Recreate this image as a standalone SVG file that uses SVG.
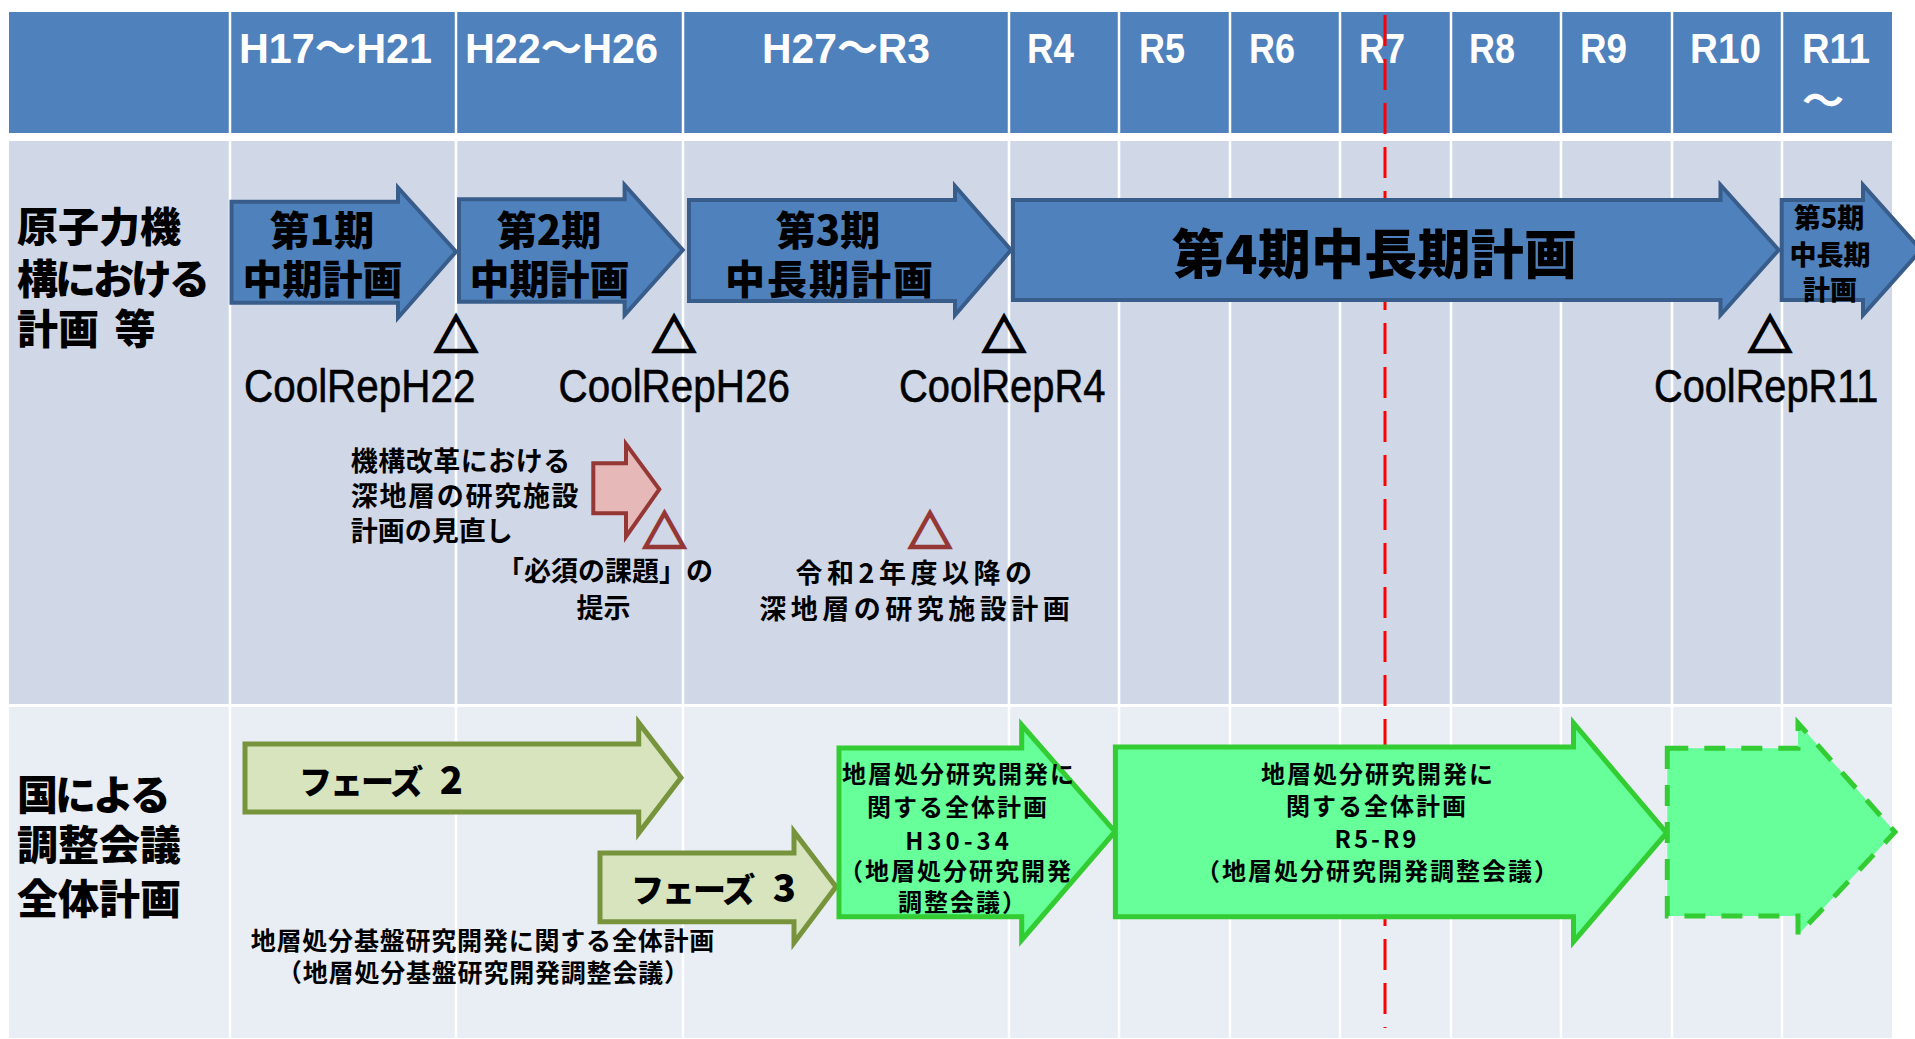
<svg xmlns="http://www.w3.org/2000/svg" width="1915" height="1039" viewBox="0 0 1915 1039">
<style>
.hdr{font-family:"Liberation Sans","Noto Sans CJK JP",sans-serif;font-weight:700;font-size:42px;fill:#fff}
.lbl{font-family:"Noto Sans CJK JP",sans-serif;font-weight:900;font-size:41px;fill:#000}
.at{font-family:"Noto Sans CJK JP",sans-serif;font-weight:900;font-size:40px;fill:#000;text-anchor:middle}
.cool{font-family:"Liberation Sans",sans-serif;font-size:47px;fill:#000;stroke:#000;stroke-width:0.6}
.sm{font-family:"Noto Sans CJK JP",sans-serif;font-weight:700;font-size:27px;fill:#000}
.gr{font-family:"Noto Sans CJK JP",sans-serif;font-weight:700;font-size:24px;fill:#000;text-anchor:middle;letter-spacing:2px}
.tri{font-family:"Noto Sans CJK JP",sans-serif;font-weight:700;font-size:44px;text-anchor:middle;stroke-width:2.5}
.sep{stroke:#fff;stroke-width:2.5}
.blue{fill:#4F81BD;stroke:#385D8A;stroke-width:4}
.ph{fill:#D7E4BD;stroke:#77933C;stroke-width:5}
.grn{fill:#66FF99;stroke:#33CC33;stroke-width:5}
</style>
<rect width="1915" height="1039" fill="#fff"/>
<g id="table">
<rect x="9" y="12" width="1883" height="121" fill="#4F81BD"/>
<rect x="9" y="141" width="1883" height="563" fill="#D0D8E8"/>
<rect x="9" y="707" width="1883" height="331" fill="#E9EDF4"/>
<g class="sep">
<line x1="230" y1="12" x2="230" y2="1038"/>
<line x1="456" y1="12" x2="456" y2="1038"/>
<line x1="683" y1="12" x2="683" y2="1038"/>
<line x1="1009" y1="12" x2="1009" y2="1038"/>
<line x1="1119" y1="12" x2="1119" y2="1038"/>
<line x1="1230" y1="12" x2="1230" y2="1038"/>
<line x1="1340" y1="12" x2="1340" y2="1038"/>
<line x1="1451" y1="12" x2="1451" y2="1038"/>
<line x1="1561" y1="12" x2="1561" y2="1038"/>
<line x1="1672" y1="12" x2="1672" y2="1038"/>
<line x1="1782" y1="12" x2="1782" y2="1038"/>
</g>
</g>
<g id="header">
<text class="hdr" x="239" y="63" textLength="193" lengthAdjust="spacingAndGlyphs">H17～H21</text>
<text class="hdr" x="465" y="63" textLength="193" lengthAdjust="spacingAndGlyphs">H22～H26</text>
<text class="hdr" x="762" y="63" textLength="168" lengthAdjust="spacingAndGlyphs">H27～R3</text>
<text class="hdr" x="1027" y="63" textLength="47" lengthAdjust="spacingAndGlyphs">R4</text>
<text class="hdr" x="1139" y="63" textLength="46" lengthAdjust="spacingAndGlyphs">R5</text>
<text class="hdr" x="1249" y="63" textLength="46" lengthAdjust="spacingAndGlyphs">R6</text>
<text class="hdr" x="1359" y="63" textLength="46" lengthAdjust="spacingAndGlyphs">R7</text>
<text class="hdr" x="1469" y="63" textLength="46" lengthAdjust="spacingAndGlyphs">R8</text>
<text class="hdr" x="1580" y="63" textLength="47" lengthAdjust="spacingAndGlyphs">R9</text>
<text class="hdr" x="1690" y="63" textLength="71" lengthAdjust="spacingAndGlyphs">R10</text>
<text class="hdr" x="1802" y="63" textLength="68" lengthAdjust="spacingAndGlyphs">R11</text>
<text class="hdr" x="1823" y="116" text-anchor="middle">～</text>
</g>
<g id="row-labels">
<text class="lbl"><tspan x="17" y="242">原子力機</tspan><tspan x="17" y="294" letter-spacing="-3">構における</tspan><tspan x="17" y="344">計画</tspan><tspan x="105" y="344"> 等</tspan></text>
<text class="lbl"><tspan x="17" y="810" letter-spacing="-3">国による</tspan><tspan x="17" y="860">調整会議</tspan><tspan x="17" y="914">全体計画</tspan></text>
</g>
<g id="red-line">
<line x1="1385" y1="15" x2="1385" y2="1028" stroke="#FF0000" stroke-width="3" stroke-dasharray="31 13"/>
</g>
<g id="plan1">
<polygon class="blue" points="231.5,201.7 398,201.7 398,187.7 456,251.7 398,317.7 398,302.7 231.5,302.7"/>
<text class="at"><tspan x="322" y="245">第1期</tspan><tspan x="322.5" y="294">中期計画</tspan></text>
</g>
<g id="plan2">
<polygon class="blue" points="459,199.3 624.6,199.3 624.6,185 682.8,250 624.6,315 624.6,301.7 459,301.7"/>
<text class="at"><tspan x="549" y="245">第2期</tspan><tspan x="549.5" y="294">中期計画</tspan></text>
</g>
<g id="plan3">
<polygon class="blue" points="689,200 955,200 955,186 1011,250 955,315 955,301 689,301"/>
<text class="at"><tspan x="828" y="245">第3期</tspan><tspan x="830" y="294" letter-spacing="2">中長期計画</tspan></text>
</g>
<g id="plan4">
<polygon class="blue" points="1013,200 1720.5,200 1720.5,185 1778.6,250 1720.5,315 1720.5,300 1013,300"/>
<text class="at" x="1374.6" y="274" style="font-size:53px" textLength="405">第4期中長期計画</text>
</g>
<g id="plan5">
<polygon class="blue" points="1781.7,200 1863,200 1863,185 1921,250 1863,315 1863,300 1781.7,300"/>
<text class="at" style="font-size:27px"><tspan x="1829" y="228">第5期</tspan><tspan x="1830" y="265">中長期</tspan><tspan x="1830" y="300">計画</tspan></text>
</g>
<g id="coolrep">
<text class="tri" x="456" y="352" fill="#000" stroke="#000">△</text>
<text class="tri" x="674" y="352" fill="#000" stroke="#000">△</text>
<text class="tri" x="1004" y="352" fill="#000" stroke="#000">△</text>
<text class="tri" x="1770" y="352" fill="#000" stroke="#000">△</text>
<text class="cool" transform="translate(244,402) scale(0.86,1)">CoolRepH22</text>
<text class="cool" transform="translate(558.5,402) scale(0.86,1)">CoolRepH26</text>
<text class="cool" transform="translate(899,402) scale(0.85,1)">CoolRepR4</text>
<text class="cool" transform="translate(1654,402) scale(0.845,1)">CoolRepR11</text>
</g>
<g id="review">
<text class="sm"><tspan x="350.7" y="471" letter-spacing="0.5">機構改革における</tspan><tspan x="350.7" y="506" letter-spacing="1.7">深地層の研究施設</tspan><tspan x="350.7" y="541">計画の見直し</tspan></text>
<polygon points="593.3,463.3 626,463.3 626,444 659.3,489.3 626,536.7 626,513.3 593.3,513.3" fill="#E6B9B8" stroke="#953735" stroke-width="4"/>
</g>
<g id="issues">
<text class="tri" x="664.5" y="548" fill="#953735" stroke="#953735">△</text>
<text class="sm" text-anchor="middle"><tspan x="605" y="581">「必須の課題」の</tspan><tspan x="603.5" y="618">提示</tspan></text>
</g>
<g id="facility">
<text class="tri" x="930" y="548" fill="#953735" stroke="#953735">△</text>
<text class="sm" text-anchor="middle" letter-spacing="4.5"><tspan x="916" y="583">令和2年度以降の</tspan><tspan x="916.7" y="619">深地層の研究施設計画</tspan></text>
</g>
<g id="phase2">
<polygon class="ph" points="245,744 638.7,744 638.7,722.7 681,777.7 638.7,833 638.7,812 245,812"/>
<text class="lbl" style="font-size:33px"><tspan x="299" y="794" letter-spacing="-2">フェーズ</tspan><tspan x="431" y="794" style="font-size:38px"> 2</tspan></text>
</g>
<g id="phase3">
<polygon class="ph" points="600,853 794,853 794,831.7 836,886.7 794,942.7 794,921.7 600,921.7"/>
<text class="lbl" style="font-size:33px"><tspan x="631" y="902" letter-spacing="-2">フェーズ</tspan><tspan x="764" y="902" style="font-size:38px"> 3</tspan></text>
</g>
<g id="base-plan">
<text class="sm" text-anchor="middle" style="font-size:25px" letter-spacing="0.8"><tspan x="482.9" y="950">地層処分基盤研究開発に関する全体計画</tspan><tspan x="483.4" y="982">（地層処分基盤研究開発調整会議）</tspan></text>
</g>
<g id="plan-h30">
<polygon class="grn" points="839,748 1021.7,748 1021.7,725 1115,831.7 1021.7,940 1021.7,916.7 839,916.7"/>
<text class="gr"><tspan x="959" y="783">地層処分研究開発に</tspan><tspan x="958" y="816">関する全体計画</tspan><tspan x="959" y="850" letter-spacing="4">H30-34</tspan><tspan x="956" y="880">（地層処分研究開発</tspan><tspan x="963" y="911">調整会議）</tspan></text>
</g>
<g id="plan-r5">
<polygon class="grn" points="1115.4,747 1573.5,747 1573.5,723 1666.6,833 1573.5,941.7 1573.5,916.7 1115.4,916.7"/>
<text class="gr"><tspan x="1378" y="783">地層処分研究開発に</tspan><tspan x="1377" y="815">関する全体計画</tspan><tspan x="1377" y="848" letter-spacing="3">R5-R9</tspan><tspan x="1378" y="880">（地層処分研究開発調整会議）</tspan></text>
</g>
<g id="plan-next">
<polygon class="grn" stroke-dasharray="21 16" points="1667.3,748.3 1798,748.3 1798,723 1895,832 1798,935 1798,916 1667.3,916"/>
</g>
</svg>
